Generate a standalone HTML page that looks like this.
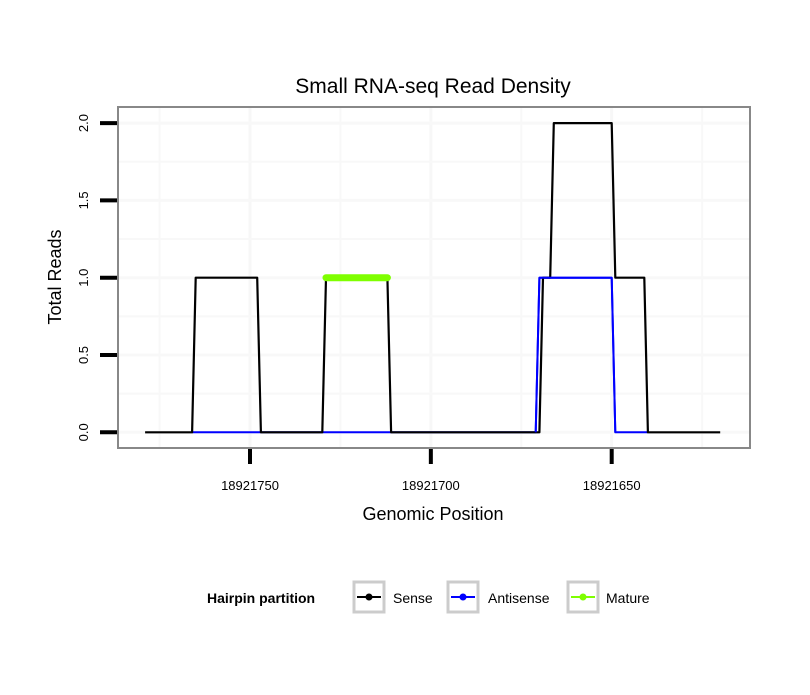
<!DOCTYPE html>
<html><head><meta charset="utf-8"><style>
body{margin:0;background:#fff;font-family:"Liberation Sans",sans-serif}
</style></head><body>
<svg id="chart" width="810" height="690" xmlns="http://www.w3.org/2000/svg" font-family="Liberation Sans, sans-serif">
<rect width="810" height="690" fill="#fff"/>
<text x="433" y="93" text-anchor="middle" font-size="21">Small RNA-seq Read Density</text>
<g id="grid"></g>
<g id="series"></g>
<rect x="118" y="107" width="632" height="341" fill="none" stroke="#888" stroke-width="2"/>
<g id="axes"></g>
<text x="433" y="520" text-anchor="middle" font-size="18">Genomic Position</text>
<text transform="translate(61,277) rotate(-90)" text-anchor="middle" font-size="18">Total Reads</text>
<g>
<text x="207" y="603" font-size="14" font-weight="bold">Hairpin partition</text>
<g><rect x="354" y="582" width="30" height="30" fill="#fff" stroke="#ccc" stroke-width="3"/><line x1="357" y1="597" x2="381" y2="597" stroke="#000" stroke-width="2"/><circle cx="369" cy="597" r="3.5" fill="#000"/><text x="393" y="603" font-size="14">Sense</text></g>
<g><rect x="448" y="582" width="30" height="30" fill="#fff" stroke="#ccc" stroke-width="3"/><line x1="451" y1="597" x2="475" y2="597" stroke="#00f" stroke-width="2"/><circle cx="463" cy="597" r="3.5" fill="#00f"/><text x="488" y="603" font-size="14">Antisense</text></g>
<g><rect x="568" y="582" width="30" height="30" fill="#fff" stroke="#ccc" stroke-width="3"/><line x1="571" y1="597" x2="595" y2="597" stroke="#7fff00" stroke-width="2"/><circle cx="583" cy="597" r="3.5" fill="#7fff00"/><text x="606" y="603" font-size="14">Mature</text></g>
</g>
</svg>
<script>
const base = 18921600;
const senseX = [179,166,165,148,147,130,129,112,111,70,69,67,66,50,49,41,40,20];
const senseY = [0,0,1,1,0,0,1,1,0,0,1,1,2,2,1,1,0,0];
const antiX = [166,71,70,50,49,40];
const antiY = [0,0,1,1,0,0];
const matureX = [129,112];
const matureY = [1,1];
const xTicks = [18921750,18921700,18921650];
const xTickLabels = ["18921750","18921700","18921650"];
const yTicks = [0,0.5,1,1.5,2];
const yTickLabels = ["0.0","0.5","1.0","1.5","2.0"];

const NS="http://www.w3.org/2000/svg";
function xs(g){return 250+(18921750-g)*3.617;}
function ys(v){return 432.3-v*154.6;}
function mk(parent,tag,attrs){const e=document.createElementNS(NS,tag);for(const k in attrs)e.setAttribute(k,attrs[k]);document.getElementById(parent).appendChild(e);return e;}
// grid
for(let i=-1;i<xTicks.length;i++){
  const g=xTicks[0]-25-50*i;
  const x=xs(g); if(x>118&&x<750){const l=mk('grid','line',{x1:x,x2:x,y1:108,y2:447,stroke:'#f8f8f8','stroke-width':2});
  
  }
}
xTicks.forEach(t=>{const l=mk('grid','line',{x1:xs(t),x2:xs(t),y1:108,y2:447,stroke:'#f7f7f7','stroke-width':3});

});
for(let v=0;v<=2.0001;v+=0.25){const l=mk('grid','line',{x1:119,x2:749,y1:ys(v),y2:ys(v),stroke:'#f8f8f8','stroke-width':v%0.5===0?3:2});

}
function path(xa,ya,color,w,name){
  const d=xa.map((x,i)=>(i?'L':'M')+xs(base+x).toFixed(1)+','+ys(ya[i]).toFixed(1)).join(' ');
  const p=mk('series','path',{d:d,fill:'none',stroke:color,'stroke-width':w,'stroke-linecap':w>3?'round':'butt','stroke-linejoin':'round'});
  
  
}
path(antiX,antiY,'#00f',2,'antisense-line');
path(senseX,senseY,'#000',2.2,'sense-line');
path(matureX,matureY,'#7fff00',7,'mature-line');
path(antiX.slice(1,5),antiY.slice(1,5),'#00f',2,'antisense-line-top');
// axes
xTicks.forEach((t,i)=>{
  const l=mk('axes','line',{x1:xs(t),x2:xs(t),y1:449,y2:464,stroke:'#000','stroke-width':4});
  
  
  const tx=mk('axes','text',{x:xs(t),y:490,'text-anchor':'middle','font-size':13});
  tx.textContent=xTickLabels[i];
  
  
});
yTicks.forEach((t,i)=>{
  const l=mk('axes','line',{x1:100,x2:117,y1:ys(t),y2:ys(t),stroke:'#000','stroke-width':4});
  
  
  const tx=mk('axes','text',{transform:`translate(88,${ys(t)}) rotate(-90)`,'text-anchor':'middle','font-size':13});
  tx.textContent=yTickLabels[i];
  
  
});
</script>
</body></html>
